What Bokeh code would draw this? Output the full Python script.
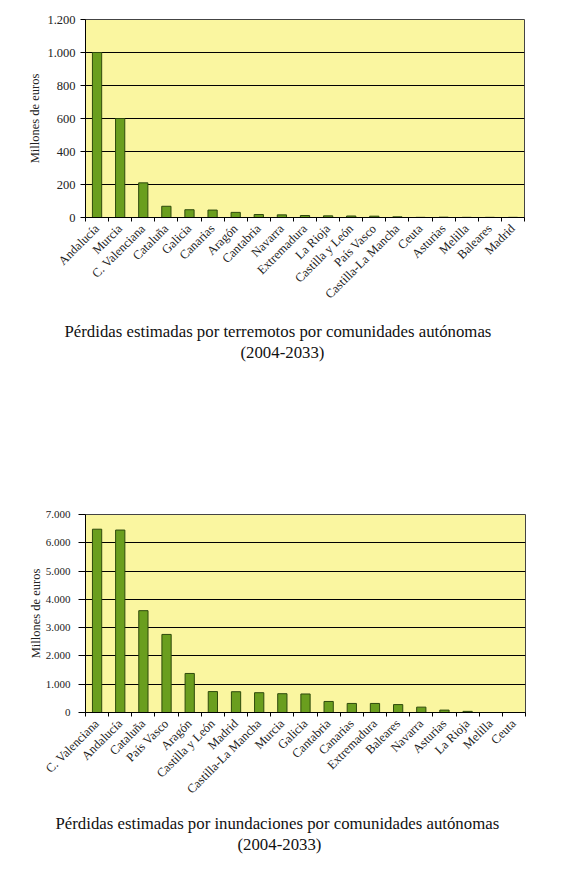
import math
from bokeh.plotting import figure
from bokeh.models import FixedTicker, Title, ColumnDataSource, Range1d
from bokeh.layouts import column
from bokeh.embed import file_html
from bokeh.resources import INLINE

# ---- data: earthquakes ----
quake_regions = ["Andalucía", "Murcia", "C. Valenciana", "Cataluña", "Galicia",
                 "Canarias", "Aragón", "Cantabria", "Navarra", "Extremadura",
                 "La Rioja", "Castilla y León", "País Vasco", "Castilla-La Mancha",
                 "Ceuta", "Asturias", "Melilla", "Baleares", "Madrid"]
quake_values = [1000, 600, 210, 68, 47, 45, 31, 18, 16, 12, 10, 9, 8, 4, 1, 2, 1, 1, 1]
quake_ticks = [0, 200, 400, 600, 800, 1000, 1200]
quake_tick_labels = ["0", "200", "400", "600", "800", "1.000", "1.200"]
quake_title = ["Pérdidas estimadas por terremotos por comunidades autónomas", "(2004-2033)"]

# ---- data: floods ----
flood_regions = ["C. Valenciana", "Andalucía", "Cataluña", "País Vasco", "Aragón",
                 "Castilla y León", "Madrid", "Castilla-La Mancha", "Murcia", "Galicia",
                 "Cantabria", "Canarias", "Extremadura", "Baleares", "Navarra",
                 "Asturias", "La Rioja", "Melilla", "Ceuta"]
flood_values = [6480, 6450, 3600, 2760, 1380, 740, 735, 700, 665, 655,
                390, 320, 320, 280, 190, 85, 40, 0, 0]
flood_ticks = [0, 1000, 2000, 3000, 4000, 5000, 6000, 7000]
flood_tick_labels = ["0", "1.000", "2.000", "3.000", "4.000", "5.000", "6.000", "7.000"]
flood_title = ["Pérdidas estimadas por inundaciones por comunidades autónomas", "(2004-2033)"]

y_label = "Millones de euros"

FONT = "Liberation Serif"
PLOT_BG = "#FAF6A0"
BAR_FILL = "#6A9E1E"
BAR_LINE = "#2E4A0C"
W = 561


def make_chart(regions, values, ticks, tick_labels, title_lines, height,
               border_left, border_top, frame_w, title_offsets, title_gap,
               ytick_font, ytick_out, ytick_standoff, ylabel_standoff):
    n = len(regions)
    centers = list(range(1, n + 1))
    bounds = [c - 0.5 for c in centers] + [n + 0.5]
    p = figure(width=W, height=height, output_backend="svg", toolbar_location=None,
               x_range=Range1d(0.5, n + 0.5), y_range=Range1d(ticks[0], ticks[-1]),
               min_border_left=border_left, min_border_top=border_top,
               min_border_right=W - border_left - frame_w,
               min_border_bottom=height - border_top - 198)
    p.frame_width = frame_w
    p.frame_height = 198
    p.background_fill_color = PLOT_BG
    p.border_fill_color = "white"
    p.outline_line_color = "#444444"
    p.outline_line_width = 1

    src = ColumnDataSource(dict(x=centers, top=values))
    p.vbar(x="x", top="top", bottom=0, width=0.4, source=src,
           fill_color=BAR_FILL, line_color=BAR_LINE, line_width=1)

    # x axis
    xa = p.xaxis[0]
    xa.ticker = FixedTicker(ticks=centers, minor_ticks=bounds)
    xa.major_label_overrides = {c: r for c, r in zip(centers, regions)}
    xa.major_label_orientation = math.pi / 4
    xa.major_tick_line_color = None
    xa.minor_tick_line_color = "black"
    xa.minor_tick_in = 0
    xa.minor_tick_out = 4
    xa.axis_line_color = "black"
    xa.major_label_text_font = FONT
    xa.major_label_text_font_size = "12.5px"
    xa.major_label_text_color = "#222222"
    xa.major_label_standoff = 3

    # y axis
    ya = p.yaxis[0]
    ya.ticker = FixedTicker(ticks=ticks)
    ya.major_label_overrides = {t: l for t, l in zip(ticks, tick_labels)}
    ya.minor_tick_line_color = None
    ya.major_tick_in = 0
    ya.major_tick_out = ytick_out
    ya.major_tick_line_color = "black"
    ya.axis_line_color = "black"
    ya.major_label_text_font = FONT
    ya.major_label_text_font_size = ytick_font
    ya.major_label_text_color = "#222222"
    ya.major_label_standoff = ytick_standoff
    ya.axis_label = y_label
    ya.axis_label_text_font = FONT
    ya.axis_label_text_font_style = "normal"
    ya.axis_label_text_font_size = "12.5px"
    ya.axis_label_text_color = "#222222"
    ya.axis_label_standoff = ylabel_standoff

    p.xgrid.visible = False
    p.ygrid.grid_line_color = "black"
    p.ygrid.grid_line_width = 1

    # spacer between the rotated labels and the caption
    p.add_layout(Title(text=" ", text_font_size="1px", standoff=title_gap), "below")
    for i, line in enumerate(title_lines):
        p.add_layout(Title(text=line, align="left", offset=title_offsets[i], standoff=0,
                           text_font=FONT, text_font_size="16.8px",
                           text_font_style="normal", text_color="#111111"), "below")
    return p


p1 = make_chart(quake_regions, quake_values, quake_ticks, quake_tick_labels, quake_title,
                height=470, border_left=83, border_top=19, frame_w=439,
                title_offsets=[-21, 155], title_gap=7,
                ytick_font="12.5px", ytick_out=5, ytick_standoff=5, ylabel_standoff=2)
p2 = make_chart(flood_regions, flood_values, flood_ticks, flood_tick_labels, flood_title,
                height=400, border_left=85, border_top=44, frame_w=440,
                title_offsets=[-30, 152], title_gap=4,
                ytick_font="11px", ytick_out=7, ytick_standoff=8, ylabel_standoff=0)

layout = column(p1, p2, spacing=0)
open("out.html", "w").write(file_html(layout, INLINE))
